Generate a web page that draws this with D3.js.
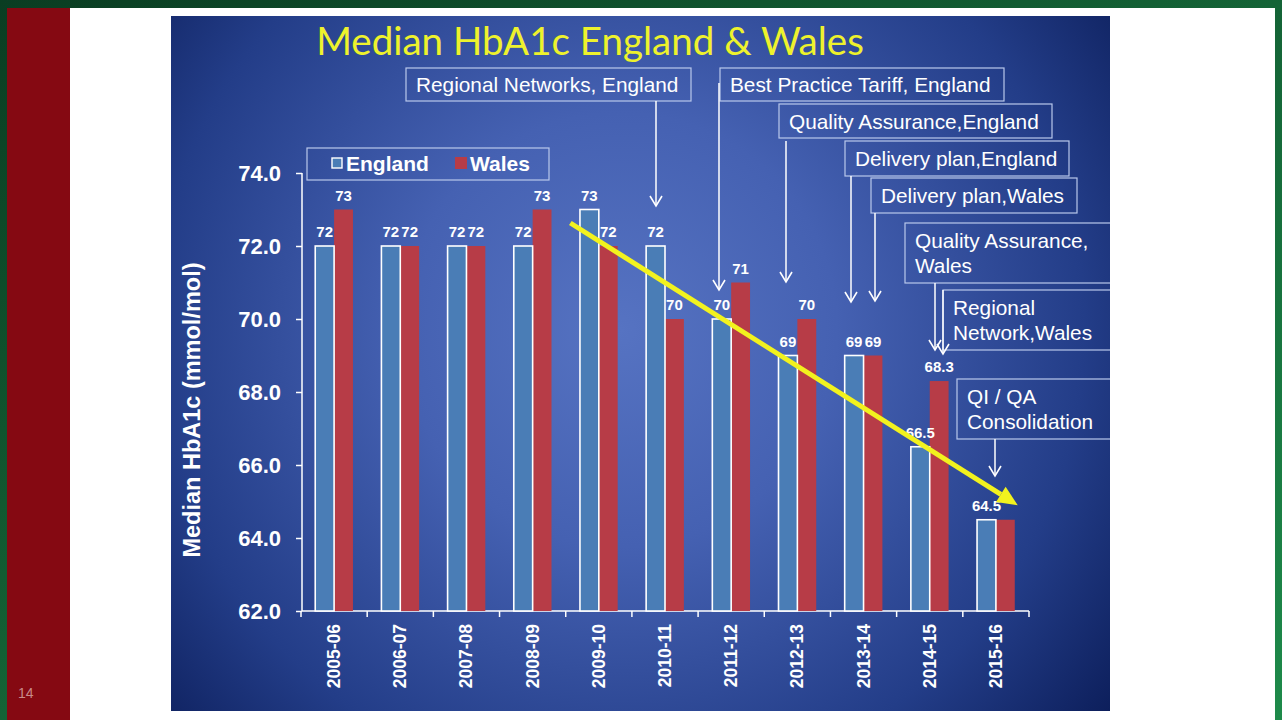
<!DOCTYPE html>
<html><head><meta charset="utf-8">
<script src="https://cdn.jsdelivr.net/npm/d3@7"></script>
<style>
html,body{margin:0;padding:0;overflow:hidden;background:#fff;}
svg{display:block;}
</style></head>
<body>
<script>
// ---- data ----
const categories = ["2005-06","2006-07","2007-08","2008-09","2009-10","2010-11","2011-12","2012-13","2013-14","2014-15","2015-16"];
const seriesNames = ["England","Wales"];
const englandValues = [72,72,72,72,73,72,70,69,69,66.5,64.5];
const walesValues   = [73,72,72,73,72,70,71,70,69,68.3,64.5];
const englandLabels = ["72","72","72","72","73","72","70","69","69","66.5","64.5"];
const walesLabels   = ["73","72","72","73","72","70","71","70","69","68.3",""];
const yTicks = [62,64,66,68,70,72,74];
const titleText = "Median HbA1c England & Wales";
const yAxisTitle = "Median HbA1c (mmol/mol)";
const annotationTexts = [
  ["Regional Networks, England"],
  ["Best Practice Tariff, England"],
  ["Quality Assurance,England"],
  ["Delivery plan,England"],
  ["Delivery plan,Wales"],
  ["Quality Assurance,","Wales"],
  ["Regional","Network,Wales"],
  ["QI / QA","Consolidation"]
];
// trend arrow in data terms: [category index + fraction, value]
const trendStart = [4.07, 72.63];
const trendEnd = [10.83, 64.9];

const W = 1282, H = 720;
const svg = d3.select("body").append("svg").attr("width", W).attr("height", H);
const defs = svg.append("defs");

// slide frame
const gg = defs.append("linearGradient").attr("id","greenbg").attr("x1",0).attr("y1",0).attr("x2",1).attr("y2",1);
gg.append("stop").attr("offset",0).attr("stop-color","#0a3d22");
gg.append("stop").attr("offset",1).attr("stop-color","#1e8a4a");
svg.append("rect").attr("width",W).attr("height",H).attr("fill","url(#greenbg)");
svg.append("rect").attr("x",7).attr("y",8).attr("width",1268).attr("height",712).attr("fill","#ffffff");
svg.append("rect").attr("x",7).attr("y",8).attr("width",63).attr("height",712).attr("fill","#850912");
svg.append("text").attr("x",18).attr("y",698).attr("fill","#c98a8a").attr("font-family","Liberation Sans, Arial, sans-serif").attr("font-size",14).text("14");

// blue panel
const rg = defs.append("radialGradient").attr("id","bluebg").attr("gradientUnits","userSpaceOnUse")
  .attr("cx",620).attr("cy",330).attr("r",620);
rg.append("stop").attr("offset",0).attr("stop-color","#5673c2");
rg.append("stop").attr("offset",0.35).attr("stop-color","#4561b2");
rg.append("stop").attr("offset",0.75).attr("stop-color","#233d88");
rg.append("stop").attr("offset",1).attr("stop-color","#0d1f5c");
const panel = {x:171, y:16, w:939, h:695};
svg.append("rect").attr("x",panel.x).attr("y",panel.y).attr("width",panel.w).attr("height",panel.h).attr("fill","url(#bluebg)");
defs.append("clipPath").attr("id","panelclip").append("rect").attr("x",panel.x).attr("y",panel.y).attr("width",panel.w).attr("height",panel.h);

const g = svg.append("g").attr("clip-path","url(#panelclip)");

// title
const title = g.append("text").attr("x",590).attr("y",55).attr("text-anchor","middle")
  .attr("fill","#eef22c").attr("font-family","Lato, 'Open Sans', sans-serif").attr("font-size",36).text(titleText);
const tl = title.node().getComputedTextLength();
title.attr("font-size", 36*548/tl);

// scales
const x0 = d3.scaleBand().domain(categories).range([301,1029]).paddingInner(0.43).paddingOuter(0.215);
const x1 = d3.scaleBand().domain(seriesNames).range([0,x0.bandwidth()]);
const y = d3.scaleLinear().domain([62,74]).range([611,173]);
const step = x0.step();
const xStart = 301;

const fontB = "Liberation Sans, Arial, sans-serif";

// y axis
const yAxis = d3.axisLeft(y).tickValues(yTicks).tickFormat(d3.format(".1f")).tickSize(6).tickPadding(15);
const ya = g.append("g").attr("transform","translate(302,0)").call(yAxis);
ya.select(".domain").attr("stroke","#ffffff").attr("stroke-width",1.5).attr("d","M0,173V611");
ya.selectAll(".tick line").attr("stroke","#ffffff").attr("stroke-width",1.5);
ya.selectAll(".tick text").attr("fill","#ffffff").attr("font-family",fontB).attr("font-weight","bold").attr("font-size",22);

// x axis line and boundary ticks
const bounds = d3.range(categories.length+1).map(i => xStart + i*step);
g.append("line").attr("x1",302).attr("x2",bounds[bounds.length-1]).attr("y1",611).attr("y2",611).attr("stroke","#fff").attr("stroke-width",1.5);
g.selectAll(".bt").data(bounds).join("line").attr("x1",d=>d).attr("x2",d=>d).attr("y1",611).attr("y2",617).attr("stroke","#fff").attr("stroke-width",1.5);
g.selectAll(".xl").data(categories).join("text")
  .attr("transform",d=>`translate(${x0(d)+x0.bandwidth()/2+6},624) rotate(-90)`)
  .attr("text-anchor","end").attr("fill","#fff").attr("font-family",fontB).attr("font-weight","bold").attr("font-size",17.5)
  .text(d=>d);

// y title
g.append("text").attr("transform","translate(200,410) rotate(-90)").attr("text-anchor","middle")
  .attr("fill","#fff").attr("font-family",fontB).attr("font-weight","bold").attr("font-size",23.5).text(yAxisTitle);

// bars
const rows = categories.map((c,i)=>({c, E:englandValues[i], W:walesValues[i], eL:englandLabels[i], wL:walesLabels[i]}));
const bars = g.append("g");
bars.selectAll(".w").data(rows).join("rect")
  .attr("x",d=>x0(d.c)+x1("Wales")).attr("width",x1.bandwidth())
  .attr("y",d=>y(d.W)).attr("height",d=>y(62)-y(d.W)).attr("fill","#b73c47");
bars.selectAll(".e").data(rows).join("rect")
  .attr("x",d=>x0(d.c)+x1("England")).attr("width",x1.bandwidth())
  .attr("y",d=>y(d.E)).attr("height",d=>y(62)-y(d.E)).attr("fill","#4a7db6").attr("stroke","#ffffff").attr("stroke-width",1.6);

// labels
const lab = g.append("g").attr("fill","#fff").attr("font-family",fontB).attr("font-weight","bold").attr("font-size",15).attr("text-anchor","middle");
lab.selectAll(".el").data(rows).join("text").attr("x",d=>x0(d.c)+x1("England")+x1.bandwidth()/2).attr("y",d=>y(d.E)-9).text(d=>d.eL);
lab.selectAll(".wl").data(rows).join("text").attr("x",d=>x0(d.c)+x1("Wales")+x1.bandwidth()/2).attr("y",d=>y(d.W)-9).text(d=>d.wL);

// legend
const leg = g.append("g");
leg.append("rect").attr("x",307).attr("y",148).attr("width",242).attr("height",32).attr("fill","none").attr("stroke","#b9c8ec").attr("stroke-width",1.2);
leg.append("rect").attr("x",332).attr("y",158).attr("width",10).attr("height",10).attr("fill","#4a7db6").attr("stroke","#fff").attr("stroke-width",1.4);
leg.append("text").attr("x",346).attr("y",171).attr("fill","#fff").attr("font-family",fontB).attr("font-weight","bold").attr("font-size",21).text(seriesNames[0]);
leg.append("rect").attr("x",455).attr("y",157).attr("width",12).attr("height",12).attr("fill","#b73c47");
leg.append("text").attr("x",470).attr("y",171).attr("fill","#fff").attr("font-family",fontB).attr("font-weight","bold").attr("font-size",21).text(seriesNames[1]);

// annotation layout: box [x,y,w,h], arrow [x, y1, y2]
const annLayout = [
  {box:[406,68,285,33], arrow:[656,101,206]},
  {box:[720,68,284,33], arrow:[719,83,290]},
  {box:[779,104,273,34], arrow:[786,141,282]},
  {box:[845,141,224,35], arrow:[851,176,302]},
  {box:[871,178,206,35], arrow:[875,213,301]},
  {box:[905,223,240,60], arrow:[935,283,350]},
  {box:[943,290,200,60], arrow:[943,290,354]},
  {box:[957,379,190,60], arrow:[995,439,476]}
];
const ann = g.append("g");
annLayout.forEach((L,i)=>{
  const [bx,by,bw,bh] = L.box;
  ann.append("rect").attr("x",bx).attr("y",by).attr("width",bw).attr("height",bh).attr("fill","none").attr("stroke","#b9c8ec").attr("stroke-width",1.2);
  const lines = annotationTexts[i];
  lines.forEach((t,j)=>{
    ann.append("text").attr("x",bx+10).attr("y", lines.length===1 ? by+bh/2+7.5 : by+25+j*25)
      .attr("fill","#fff").attr("font-family","Liberation Sans, Arial, sans-serif").attr("font-size",20.8).text(t);
  });
  const [ax,ay1,ay2] = L.arrow;
  ann.append("line").attr("x1",ax).attr("x2",ax).attr("y1",ay1).attr("y2",ay2).attr("stroke","#fff").attr("stroke-width",1.5);
  ann.append("path").attr("d",`M${ax-6},${ay2-10}L${ax},${ay2}L${ax+6},${ay2-10}`).attr("fill","none").attr("stroke","#fff").attr("stroke-width",1.6);
});

// trend arrow
const sx = xStart + trendStart[0]*step, sy = y(trendStart[1]);
const ex = xStart + trendEnd[0]*step, ey = y(trendEnd[1]);
const ang = Math.atan2(ey-sy, ex-sx);
const headLen = 20, headW = 9;
const bx2 = ex - headLen*Math.cos(ang), by2 = ey - headLen*Math.sin(ang);
g.append("line").attr("x1",sx).attr("y1",sy).attr("x2",bx2).attr("y2",by2).attr("stroke","#f2f21e").attr("stroke-width",5);
const px = -Math.sin(ang), py = Math.cos(ang);
g.append("path").attr("d",`M${ex},${ey}L${bx2+px*headW},${by2+py*headW}L${bx2-px*headW},${by2-py*headW}Z`).attr("fill","#f2f21e");
</script>
</body></html>
